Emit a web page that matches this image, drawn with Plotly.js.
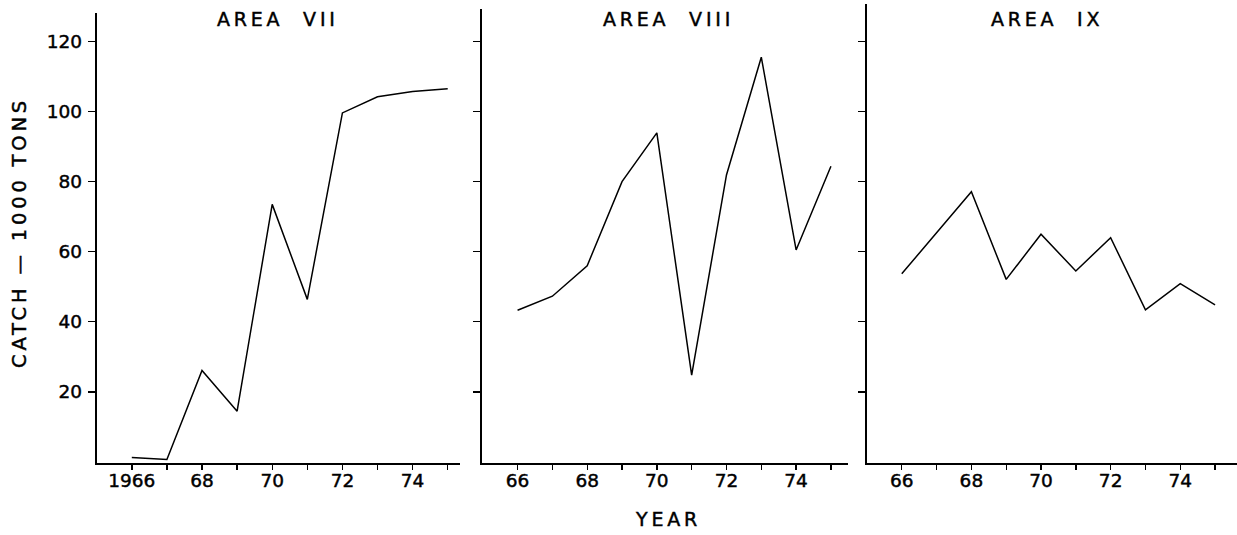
<!DOCTYPE html>
<html>
<head>
<meta charset="utf-8">
<script src="https://cdn.plot.ly/plotly-3.0.1.min.js"></script>
<style>
  html, body { margin: 0; padding: 0; background: #fff; }
  #chart { width: 1237px; height: 535px; }
  text.annotation-text { letter-spacing: 3.8px; }
  .main-svg text { stroke: #000; stroke-width: 0.45px; }
</style>
</head>
<body>
<div id="chart"></div>
<script>
// ---- data ----
const years = [1966, 1967, 1968, 1969, 1970, 1971, 1972, 1973, 1974, 1975];
const area7 = [1.3, 0.7, 26.1, 14.5, 73.5, 46.4, 99.6, 104.2, 105.7, 106.5];
const area8 = [43.3, 47.3, 56.0, 80.0, 93.9, 24.8, 81.9, 115.5, 60.5, 84.4];
const area9 = [53.7, 65.4, 77.1, 52.1, 65.0, 54.5, 64.0, 43.4, 50.9, 44.8];
const panelTitles = ['AREA  VII', 'AREA  VIII', 'AREA  IX'];
const yTickVals = [20, 40, 60, 80, 100, 120];
const xTickTextFirst = ['1966', '', '68', '', '70', '', '72', '', '74', ''];
const xTickTextOther = ['66', '', '68', '', '70', '', '72', '', '74', ''];
const yTitle = 'CATCH \u2014 1000 TONS';
const xTitle = 'YEAR';

// ---- layout geometry (pixels in a 1237 x 535 page) ----
const W = 1237, H = 535;
const bottomMargin = 72;           // plot bottom at y = 463
const plotH = H - bottomMargin;    // 463
const fx = px => px / W;
const fy = py => (plotH - py) / plotH;

const FONT = 'DejaVu Sans, Liberation Sans, sans-serif';
const pxPerUnit = 3.505;

function xAxis(domL, domR, r0, r1, ticktext) {
  return {
    domain: [fx(domL), fx(domR)],
    range: [r0, r1],
    tickmode: 'array', tickvals: years, ticktext: ticktext,
    ticks: 'outside', ticklen: 5, tickwidth: 1.4, tickcolor: '#000',
    showline: true, linecolor: '#000', linewidth: 2,
    showgrid: false, zeroline: false,
    tickfont: { family: FONT, size: 18.5, color: '#000' },
    ticklabelstandoff: -5,
    fixedrange: true
  };
}
function yAxis(topPx, showLabels, anchor) {
  const top = (plotH - 1 - topPx) / pxPerUnit;
  return {
    domain: [0, fy(topPx)],
    range: [-1 / pxPerUnit, top],
    anchor: anchor,
    tickmode: 'array', tickvals: yTickVals,
    ticks: 'outside', ticklen: 7, tickwidth: 1.4, tickcolor: '#000',
    showticklabels: showLabels,
    showline: true, linecolor: '#000', linewidth: 2,
    showgrid: false, zeroline: false,
    tickfont: { family: FONT, size: 18.5, color: '#000' },
    ticklabelstandoff: 2,
    fixedrange: true
  };
}

const lineStyle = { color: '#000', width: 1.5 };
const traces = [
  { x: years, y: area7, xaxis: 'x', yaxis: 'y', mode: 'lines', line: lineStyle, name: panelTitles[0], cliponaxis: false },
  { x: years, y: area8, xaxis: 'x2', yaxis: 'y2', mode: 'lines', line: lineStyle, name: panelTitles[1], cliponaxis: false },
  { x: years, y: area9, xaxis: 'x3', yaxis: 'y3', mode: 'lines', line: lineStyle, name: panelTitles[2], cliponaxis: false }
];

const ann = (text, px, py, angle, size) => ({
  text: text, xref: 'paper', yref: 'paper', x: fx(px), y: fy(py),
  xanchor: 'center', yanchor: 'middle', showarrow: false,
  textangle: angle || 0,
  font: { family: FONT, size: size || 19, color: '#000' }
});

const layout = {
  width: W, height: H,
  margin: { l: 0, r: 0, t: 0, b: bottomMargin, pad: 0 },
  paper_bgcolor: '#fff', plot_bgcolor: '#fff',
  showlegend: false,
  xaxis: xAxis(96.7, 460, 1965.0, 1975.35, xTickTextFirst),
  xaxis2: xAxis(481.7, 848, 1964.97, 1975.49, xTickTextOther),
  xaxis3: xAxis(867.3, 1237, 1965.01, 1975.63, xTickTextOther),
  yaxis: yAxis(13, true, 'x'),
  yaxis2: yAxis(9, false, 'x2'),
  yaxis3: yAxis(4, false, 'x3'),
  annotations: [
    ann(panelTitles[0], 278, 19),
    ann(panelTitles[1], 668, 19),
    ann(panelTitles[2], 1047, 19),
    ann(xTitle, 668, 519),
    ann(yTitle, 20, 233, -90, 19.5)
  ]
};

Plotly.newPlot('chart', traces, layout, { displayModeBar: false, staticPlot: true });
</script>
</body>
</html>
